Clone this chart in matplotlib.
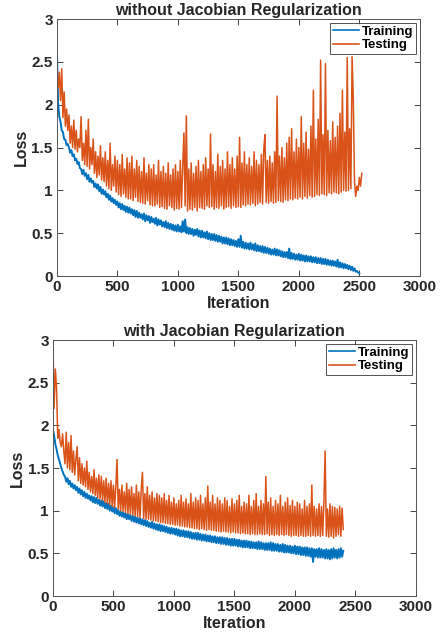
import numpy as np
import matplotlib
matplotlib.use("Agg")
import matplotlib.pyplot as plt
from matplotlib.ticker import FormatStrFormatter

plt.rcParams["font.family"] = ["Liberation Sans", "DejaVu Sans"]
plt.rcParams["font.weight"] = "bold"

step = 10  # iterations between stored samples

# without Jacobian regularization
train_a = [2.65, 2.02, 1.86, 1.80, 1.70, 1.68, 1.60, 1.59, 1.53, 1.54,
           1.50, 1.44, 1.47, 1.40, 1.42, 1.35, 1.37, 1.31, 1.33, 1.26,
           1.25, 1.19, 1.24, 1.17, 1.20, 1.13, 1.18, 1.10, 1.14, 1.09,
           1.11, 1.04, 1.08, 1.02, 1.07, 0.99, 1.04, 0.96, 1.01, 0.95,
           0.99, 0.92, 0.96, 0.89, 0.94, 0.87, 0.91, 0.85, 0.89, 0.83,
           0.87, 0.80, 0.85, 0.78, 0.84, 0.77, 0.82, 0.75, 0.81, 0.74,
           0.80, 0.73, 0.78, 0.71, 0.77, 0.69, 0.76, 0.68, 0.74, 0.68,
           0.72, 0.66, 0.73, 0.64, 0.71, 0.65, 0.70, 0.62, 0.69, 0.63,
           0.67, 0.61, 0.68, 0.59, 0.66, 0.60, 0.65, 0.58, 0.63, 0.57,
           0.64, 0.56, 0.62, 0.55, 0.61, 0.54, 0.60, 0.53, 0.59, 0.52,
           0.60, 0.52, 0.58, 0.51, 0.64, 0.52, 0.66, 0.50, 0.57, 0.49,
           0.56, 0.49, 0.55, 0.47, 0.54, 0.48, 0.55, 0.46, 0.53, 0.45,
           0.53, 0.45, 0.51, 0.44, 0.52, 0.43, 0.50, 0.42, 0.49, 0.42,
           0.49, 0.41, 0.48, 0.40, 0.47, 0.40, 0.46, 0.38, 0.45, 0.38,
           0.45, 0.37, 0.44, 0.36, 0.43, 0.36, 0.42, 0.35, 0.41, 0.34,
           0.43, 0.34, 0.47, 0.33, 0.40, 0.32, 0.39, 0.32, 0.38, 0.31,
           0.39, 0.31, 0.37, 0.30, 0.38, 0.29, 0.36, 0.29, 0.35, 0.28,
           0.35, 0.27, 0.34, 0.27, 0.33, 0.26, 0.32, 0.25, 0.31, 0.25,
           0.32, 0.24, 0.31, 0.24, 0.30, 0.23, 0.29, 0.22, 0.28, 0.22,
           0.28, 0.21, 0.32, 0.20, 0.27, 0.20, 0.26, 0.19, 0.25, 0.19,
           0.26, 0.18, 0.25, 0.18, 0.24, 0.17, 0.24, 0.17, 0.23, 0.17,
           0.23, 0.16, 0.22, 0.16, 0.22, 0.15, 0.21, 0.15, 0.21, 0.14,
           0.20, 0.14, 0.20, 0.13, 0.19, 0.13, 0.18, 0.12, 0.18, 0.12,
           0.17, 0.11, 0.19, 0.10, 0.16, 0.10, 0.15, 0.09, 0.14, 0.09,
           0.13, 0.08, 0.12, 0.07, 0.11, 0.06, 0.09, 0.05, 0.06, 0.04,
           0.03]
test_a = [2.30, 2.20, 2.38, 2.05, 2.42, 1.85, 2.15, 1.75, 1.95, 1.70,
          1.88, 1.55, 1.75, 1.50, 1.82, 1.48, 1.70, 1.45, 1.60, 1.50,
          1.86, 1.35, 1.55, 1.30, 1.70, 1.28, 1.83, 1.25, 1.50, 1.30,
          1.60, 1.20, 1.45, 1.15, 1.40, 1.18, 1.52, 1.12, 1.38, 1.10,
          1.45, 1.05, 1.35, 1.02, 1.55, 1.00, 1.30, 1.05, 1.40, 0.98,
          1.35, 0.95, 1.30, 0.93, 1.42, 0.96, 1.25, 0.92, 1.38, 0.90,
          1.32, 0.90, 1.40, 0.88, 1.25, 0.92, 1.35, 0.87, 1.28, 0.86,
          1.22, 0.85, 1.38, 0.84, 1.20, 0.88, 1.30, 0.83, 1.25, 0.82,
          1.30, 0.82, 1.18, 0.84, 1.35, 0.80, 1.22, 0.81, 1.28, 0.79,
          1.20, 0.78, 1.32, 0.82, 1.18, 0.80, 1.25, 0.77, 1.30, 0.79,
          1.22, 0.78, 1.35, 0.80, 1.28, 1.67, 0.82, 1.87, 0.76, 1.25,
          0.78, 1.32, 0.77, 1.20, 0.80, 1.28, 0.76, 1.35, 0.80, 1.22,
          0.79, 1.30, 0.78, 1.38, 0.82, 1.25, 0.80, 1.66, 0.81, 1.30,
          0.78, 1.22, 0.80, 1.42, 0.79, 1.28, 0.82, 1.35, 0.78, 1.25,
          0.80, 1.45, 0.81, 1.30, 0.79, 1.38, 0.82, 1.25, 0.80, 1.40,
          0.81, 1.62, 0.80, 1.32, 0.83, 1.45, 0.82, 1.30, 0.84, 1.38,
          0.83, 1.28, 0.85, 1.45, 0.82, 1.35, 0.84, 1.30, 0.86, 1.42,
          0.84, 1.48, 1.65, 0.86, 1.35, 0.85, 1.40, 0.87, 1.32, 0.85,
          1.45, 0.86, 2.10, 0.88, 1.40, 0.87, 1.50, 0.86, 1.38, 0.89,
          1.55, 0.88, 1.62, 0.90, 1.72, 0.89, 1.45, 0.91, 1.60, 0.90,
          1.50, 0.92, 1.86, 0.90, 1.55, 0.93, 1.68, 0.91, 1.48, 0.94,
          1.75, 0.92, 2.17, 0.93, 1.60, 0.95, 1.83, 0.94, 2.52, 0.96,
          1.65, 0.95, 2.48, 0.94, 1.70, 0.97, 1.58, 0.96, 1.80, 0.98,
          1.62, 0.97, 1.75, 0.96, 1.90, 0.98, 2.17, 1.00, 1.68, 0.99,
          2.55, 1.00, 1.72, 1.02, 2.56, 2.06, 1.10, 0.93, 1.05, 1.00,
          1.15, 1.05, 1.20]

# with Jacobian regularization
train_b = [1.95, 1.88, 1.78, 1.72, 1.65, 1.60, 1.55, 1.50, 1.46, 1.42,
           1.40, 1.34, 1.38, 1.31, 1.35, 1.28, 1.32, 1.26, 1.30, 1.24,
           1.28, 1.21, 1.26, 1.19, 1.24, 1.17, 1.22, 1.15, 1.20, 1.14,
           1.18, 1.12, 1.17, 1.10, 1.16, 1.09, 1.15, 1.08, 1.13, 1.06,
           1.12, 1.05, 1.11, 1.03, 1.09, 1.02, 1.08, 1.00, 1.06, 0.99,
           1.04, 0.97, 1.03, 0.96, 1.01, 0.94, 0.99, 0.93, 0.98, 0.92,
           0.97, 0.90, 0.96, 0.90, 0.95, 0.88, 0.94, 0.87, 0.93, 0.86,
           0.92, 0.85, 0.91, 0.84, 0.90, 0.83, 0.89, 0.82, 0.88, 0.81,
           0.86, 0.80, 0.87, 0.79, 0.85, 0.78, 0.84, 0.77, 0.84, 0.76,
           0.83, 0.76, 0.82, 0.75, 0.81, 0.74, 0.80, 0.73, 0.80, 0.73,
           0.79, 0.72, 0.79, 0.71, 0.78, 0.70, 0.77, 0.70, 0.77, 0.69,
           0.76, 0.69, 0.76, 0.68, 0.75, 0.67, 0.74, 0.67, 0.74, 0.66,
           0.74, 0.66, 0.73, 0.65, 0.72, 0.65, 0.72, 0.64, 0.71, 0.64,
           0.71, 0.63, 0.70, 0.63, 0.70, 0.62, 0.69, 0.62, 0.69, 0.61,
           0.69, 0.61, 0.68, 0.60, 0.68, 0.60, 0.67, 0.59, 0.67, 0.59,
           0.67, 0.59, 0.66, 0.58, 0.66, 0.58, 0.65, 0.57, 0.65, 0.57,
           0.65, 0.57, 0.64, 0.56, 0.64, 0.56, 0.63, 0.56, 0.63, 0.55,
           0.64, 0.55, 0.63, 0.55, 0.62, 0.54, 0.62, 0.54, 0.62, 0.54,
           0.63, 0.53, 0.62, 0.53, 0.61, 0.53, 0.61, 0.52, 0.60, 0.52,
           0.61, 0.51, 0.60, 0.51, 0.59, 0.51, 0.59, 0.50, 0.58, 0.50,
           0.59, 0.49, 0.58, 0.49, 0.58, 0.48, 0.57, 0.48, 0.57, 0.47,
           0.57, 0.47, 0.56, 0.46, 0.56, 0.40, 0.55, 0.46, 0.55, 0.45,
           0.56, 0.45, 0.55, 0.45, 0.54, 0.44, 0.55, 0.44, 0.54, 0.43,
           0.55, 0.44, 0.56, 0.45, 0.54, 0.44, 0.55, 0.45, 0.56, 0.46,
           0.53]
test_b = [3.00, 2.20, 2.66, 2.44, 1.85, 1.95, 1.80, 1.75, 1.90, 1.70,
          1.55, 1.92, 1.50, 1.80, 1.48, 1.88, 1.45, 1.70, 1.42, 1.60,
          1.75, 1.35, 1.62, 1.32, 1.55, 1.30, 1.50, 1.28, 1.58, 1.25,
          1.45, 1.22, 1.40, 1.20, 1.48, 1.18, 1.38, 1.15, 1.42, 1.14,
          1.40, 1.12, 1.35, 1.10, 1.38, 1.08, 1.32, 1.07, 1.35, 1.05,
          1.30, 1.04, 1.28, 1.60, 1.02, 1.25, 1.00, 1.30, 0.99, 1.22,
          0.98, 1.32, 0.97, 1.25, 0.96, 1.28, 0.95, 1.20, 0.94, 1.30,
          0.93, 1.22, 0.92, 1.25, 1.45, 0.91, 1.20, 0.90, 1.28, 0.90,
          1.18, 0.89, 1.22, 0.88, 1.15, 0.88, 1.20, 0.87, 1.18, 0.86,
          1.15, 0.86, 1.20, 0.85, 1.12, 0.85, 1.18, 0.84, 1.10, 0.84,
          1.15, 0.83, 1.08, 0.83, 1.12, 0.82, 1.18, 0.82, 1.10, 0.81,
          1.14, 0.81, 1.08, 0.80, 1.20, 0.80, 1.10, 0.79, 1.15, 0.79,
          1.12, 0.78, 1.18, 0.79, 1.08, 0.78, 1.15, 0.77, 1.29, 0.78,
          1.10, 0.77, 1.18, 0.77, 1.08, 0.76, 1.15, 0.76, 1.12, 0.75,
          1.08, 0.76, 1.15, 0.75, 1.12, 0.75, 1.05, 0.74, 1.14, 0.75,
          1.08, 0.74, 1.12, 0.74, 1.18, 0.73, 1.05, 0.74, 1.10, 0.73,
          1.08, 0.73, 1.18, 0.72, 1.05, 0.73, 1.12, 0.72, 1.20, 0.72,
          1.05, 0.73, 1.12, 0.72, 1.08, 0.72, 1.40, 0.73, 1.10, 0.71,
          1.15, 0.72, 1.05, 0.71, 1.12, 0.72, 1.08, 0.71, 1.18, 0.72,
          1.05, 0.71, 1.10, 0.72, 1.15, 0.71, 1.06, 0.70, 1.12, 0.71,
          1.05, 0.71, 1.10, 0.70, 1.08, 0.71, 1.02, 0.70, 1.12, 0.70,
          1.05, 0.71, 1.08, 0.70, 1.30, 0.71, 1.05, 0.70, 1.02, 0.71,
          1.08, 0.70, 1.05, 0.71, 1.10, 1.70, 0.70, 1.02, 0.69, 1.08,
          0.70, 1.05, 0.68, 1.04, 0.70, 1.02, 0.72, 1.05, 0.70, 1.03,
          0.78]

titles = ["without Jacobian Regularization", "with Jacobian Regularization"]
blue = "#0072BD"
orange = "#D95319"
gray = "#262626"

fig = plt.figure(figsize=(4.41, 6.44), dpi=100)
ax1 = fig.add_axes([0.129, 0.5714, 0.823, 0.399])
ax2 = fig.add_axes([0.120, 0.0745, 0.823, 0.3975])

for ax, tr, te, title in [(ax1, train_a, test_a, titles[0]),
                          (ax2, train_b, test_b, titles[1])]:
    ax.plot(np.arange(len(tr)) * step, tr, color=blue, lw=1.4, label="Training")
    ax.plot(np.arange(len(te)) * step, te, color=orange, lw=1.1, label="Testing")
    ax.set_xlim(0, 3000)
    ax.set_ylim(0, 3)
    ax.set_xticks(np.arange(0, 3001, 500))
    ax.set_yticks(np.arange(0, 3.01, 0.5))
    ax.yaxis.set_major_formatter(FormatStrFormatter("%g"))
    ax.tick_params(direction="in", top=True, right=True, length=4,
                   labelsize=11, colors=gray, width=0.6, pad=3)
    for s in ax.spines.values():
        s.set_color("#555555")
        s.set_linewidth(0.7)
    ax.set_title(title, fontsize=11.5, fontweight="bold", color=gray, pad=3)
    ax.set_xlabel("Iteration", fontsize=11.5, fontweight="bold", color=gray, labelpad=1)
    ax.set_ylabel("Loss", fontsize=11.5, fontweight="bold", color=gray, labelpad=2)
    leg = ax.legend(loc="upper right", fontsize=9.5, frameon=True, fancybox=False,
                    handlelength=2.0, handletextpad=0.2, borderpad=0.2,
                    labelspacing=0.1, borderaxespad=0.3)
    for line in leg.get_lines():
        line.set_linewidth(1.2)
    leg.get_frame().set_edgecolor(gray)
    leg.get_frame().set_linewidth(0.7)

fig.savefig("out.png", dpi=100)
